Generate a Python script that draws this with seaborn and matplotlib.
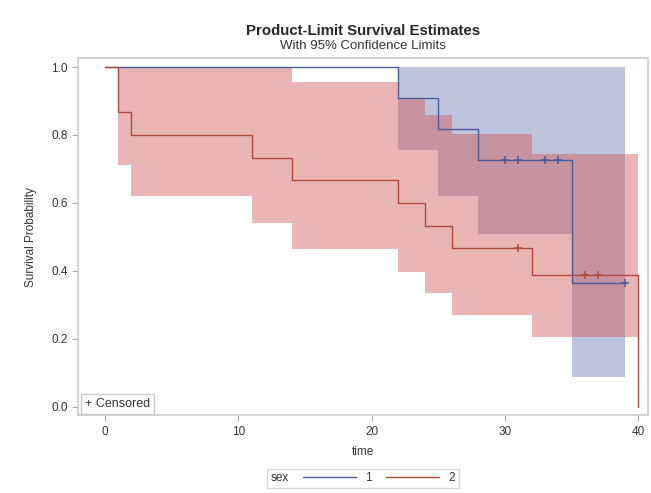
import numpy as np
import pandas as pd
import matplotlib
matplotlib.use("Agg")
import matplotlib.pyplot as plt
import seaborn as sns
from matplotlib.lines import Line2D

sns.set_style("white")
plt.rcParams['font.family'] = ['Liberation Sans', 'DejaVu Sans']

# Kaplan-Meier estimates leídos del gráfico
# sex = 1
t1 = [0, 22, 25, 28, 35, 39]
s1 = [1.0, 0.909, 0.818, 0.727, 0.364, 0.364]
cens_t1 = [30, 31, 33, 34, 39]
cens_s1 = [0.727, 0.727, 0.727, 0.727, 0.364]
ci_t1 = [22, 25, 28, 35, 39]
ci_lo1 = [0.756, 0.622, 0.509, 0.088, 0.088]
ci_hi1 = [1.0, 1.0, 1.0, 1.0, 1.0]

# sex = 2
t2 = [0, 1, 2, 11, 14, 22, 24, 26, 32, 40]
s2 = [1.0, 0.867, 0.800, 0.733, 0.667, 0.600, 0.533, 0.467, 0.389, 0.0]
cens_t2 = [31, 36, 37]
cens_s2 = [0.467, 0.389, 0.389]
ci_t2 = [1, 2, 11, 14, 22, 24, 26, 32, 40]
ci_lo2 = [0.712, 0.622, 0.541, 0.465, 0.398, 0.335, 0.270, 0.206, 0.206]
ci_hi2 = [1.0, 1.0, 1.0, 0.955, 0.909, 0.859, 0.803, 0.744, 0.744]

line_col = {'1': '#4A5A9A', '2': '#B04A40'}
fill_col = {'1': '#6F7EB3', '2': '#D05B5B'}

df = pd.concat([
    pd.DataFrame({'time': t1, 'surv': s1, 'sex': '1'}),
    pd.DataFrame({'time': t2, 'surv': s2, 'sex': '2'}),
])

fig = plt.figure(figsize=(6.51, 4.93), dpi=100)
ax = fig.add_axes([0.12, 0.158, 0.875, 0.724])

# Bandas de confianza (la roja encima de la azul)
ax.fill_between(ci_t1, ci_lo1, ci_hi1, step='post', color=fill_col['1'], alpha=0.45, lw=0)
ax.fill_between(ci_t2, ci_lo2, ci_hi2, step='post', color=fill_col['2'], alpha=0.45, lw=0)

sns.lineplot(data=df, x='time', y='surv', hue='sex', palette=line_col,
             drawstyle='steps-post', lw=1.0, ax=ax, legend=False,
             hue_order=['1', '2'])

ax.plot(cens_t1, cens_s1, ls='none', marker='+', ms=6, mew=1.1, color=line_col['1'])
ax.plot(cens_t2, cens_s2, ls='none', marker='+', ms=6, mew=1.1, color=line_col['2'])

ax.set_xlim(-2.0, 40.7)
ax.set_ylim(-0.024, 1.026)
ax.set_xticks([0, 10, 20, 30, 40])
ax.set_yticks([0.0, 0.2, 0.4, 0.6, 0.8, 1.0])
ax.set_yticklabels(['0.0', '0.2', '0.4', '0.6', '0.8', '1.0'])
ax.tick_params(axis='both', length=4, width=0.8, color='#aaaaaa', labelsize=8.5,
               labelcolor='#333333', direction='out', bottom=True, left=True)
for sp in ax.spines.values():
    sp.set_color('#cccccc')
    sp.set_linewidth(1.2)

ax.set_xlabel('time', fontsize=8.5, color='#333333', labelpad=6)
ax.set_ylabel('Survival Probability', fontsize=8.5, color='#333333', labelpad=10)

fig.text(0.557, 0.938, 'Product-Limit Survival Estimates', ha='center', va='center',
         fontsize=10.8, fontweight='bold')
fig.text(0.557, 0.907, 'With 95% Confidence Limits', ha='center', va='center',
         fontsize=9.5, color='#333333')

ax.text(0.012, 0.014, '+ Censored', transform=ax.transAxes, fontsize=9,
        color='#333333', ha='left', va='bottom',
        bbox=dict(boxstyle='square,pad=0.3', fc='white', ec='#cccccc', lw=1))

handles = [Line2D([], [], color=line_col['1'], lw=1.0),
           Line2D([], [], color=line_col['2'], lw=1.0)]
leg = fig.legend(handles, ['1', '2'], title='sex', loc='center',
                 bbox_to_anchor=(0.557, 0.03), ncol=2, fontsize=8.5,
                 title_fontsize=8.5, frameon=True, fancybox=False,
                 edgecolor='#cccccc', handlelength=4.5, columnspacing=1.2,
                 borderpad=0.3, labelcolor='#333333')
leg.get_frame().set_linewidth(1)
# título a la izquierda de las entradas
c = leg.get_children()[0]
title = c.get_children()[0]
hpack = c.get_children()[1]
c._children = [hpack]
hpack._children = [title] + hpack.get_children()

fig.savefig('out.png', dpi=100)
